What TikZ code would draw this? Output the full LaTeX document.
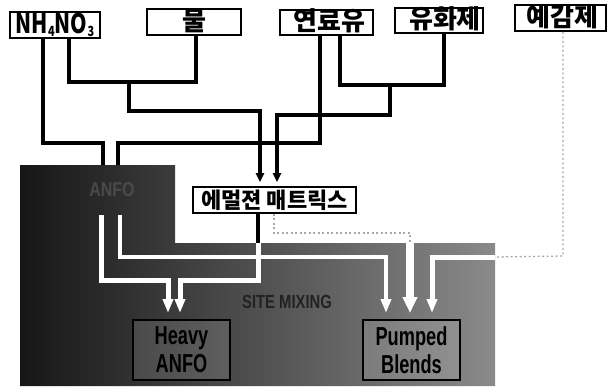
\documentclass[tikz,border=0pt]{standalone}
\usepackage{fontspec}
\usepackage{graphicx}
\setmainfont{Liberation Sans}
\newfontfamily\kr{Noto Sans CJK KR}
\usetikzlibrary{arrows.meta}
\definecolor{bgleft}{HTML}{161616}
\definecolor{bgmid}{HTML}{444444}
\definecolor{bgright}{HTML}{8A8A8A}
\definecolor{dotgray}{HTML}{A8A8A8}
\definecolor{faint}{HTML}{4A4A4A}
\definecolor{sitetext}{HTML}{222222}
\begin{document}
\begin{tikzpicture}[x=1pt,y=-1pt,
  topbox/.style={draw=black,line width=1.6pt,fill=white,inner sep=0pt,minimum height=26pt,
    text height=19pt,text depth=3pt,
    font=\kr\bfseries\fontsize{26}{26}\selectfont},
  lowbox/.style={draw=black,line width=2pt,fill=white,fill opacity=0.12,text opacity=1,
    inner sep=0pt,minimum width=97pt,minimum height=60pt,align=center,
    font=\bfseries\fontsize{26}{28}\selectfont},
  blk/.style={line width=3.5pt,black},
  wht/.style={line width=5pt,white},
  barrow/.style={-{Triangle[length=9pt,width=8pt]},shorten >=4pt},
  warrow/.style={-{Triangle[length=14pt,width=10pt]},shorten >=6pt},
  dotline/.style={dotgray,line width=1.3pt,dash pattern=on 2pt off 2.5pt}]
\useasboundingbox (0,0) rectangle (607,389);
\fill[white] (0,0) rectangle (607,389);
% dark textured area
\shade[left color=bgleft,middle color=bgmid,right color=bgright]
  (20,165) -- (175,165) -- (175,243) -- (495,243) -- (495,386) -- (20,386) -- cycle;
% top boxes
\node[topbox,minimum width=90pt] (nh) at (55,25)
  {\scalebox{0.78}[1]{\bfseries\fontsize{27}{27}\selectfont NH\raisebox{-3pt}{\fontsize{14}{14}\selectfont 4}NO\raisebox{-3pt}{\fontsize{14}{14}\selectfont 3}}};
\node[topbox,minimum width=94pt] (mul) at (194,22) {물};
\node[topbox,minimum width=93pt,minimum height=25pt] (fuel) at (326.5,22.5) {\hspace*{6pt}연료유};
\node[topbox,minimum width=88pt,minimum height=25pt] (emu) at (439,20.5) {\hspace*{12pt}유화제};
\node[topbox,minimum width=91pt] (sens) at (560.5,18) {\hspace*{4pt}예감제};
% emulsion matrix
\node[topbox,minimum width=163pt,font=\kr\bfseries\fontsize{22}{22}\selectfont] (mat) at (274.5,200) {에멀젼 매트릭스};
% ANFO (dark on dark)
\node[inner sep=0pt,minimum width=70pt,minimum height=50pt,text=faint,font=\bfseries\fontsize{20}{20}\selectfont] (anfo) at (112,190) {\scalebox{0.8}[1]{ANFO}};
% site mixing label
\node[inner sep=0pt,text=sitetext,font=\bfseries\fontsize{19}{19}\selectfont] (site) at (287,302) {\scalebox{0.78}[1]{SITE MIXING}};
% product boxes
\node[lowbox] (heavy) at (181.5,350) {\scalebox{0.7}[1]{Heavy}\\\scalebox{0.7}[1]{ANFO}};
\node[lowbox] (pump) at (411.5,350) {\scalebox{0.7}[1]{Pumped}\\\scalebox{0.7}[1]{Blends}};
% black connectors
\coordinate (j1) at (129,82);
\coordinate (j2) at (390,85);
\draw[blk] (nh.south -| 43,0) -- (43,143) -- (103,143) -- (anfo.north -| 103,0);
\draw[blk] (nh.south -| 69,0) -- (69,82) -- (196,82) -- (mul.south -| 196,0);
\draw[blk,barrow] (j1) -- (129,111) -- (260,111) -- (mat.north -| 260,0);
\draw[blk] (fuel.south -| 320,0) -- (320,143) -- (118,143) -- (anfo.north -| 118,0);
\draw[blk] (fuel.south -| 340,0) -- (340,85) -- (444,85) -- (emu.south -| 444,0);
\draw[blk,barrow] (j2) -- (390,115) -- (277,115) -- (mat.north -| 277,0);
\coordinate (m1) at (258,243);
\draw[blk] (mat.south -| 258,0) -- (m1);
% white connectors in the dark area
\draw[wht,warrow] (anfo.south -| 101,0) -- (101,280) -- (168,280) -- (heavy.north -| 168,0);
\draw[wht,warrow] (m1) -- (258,280) -- (180,280) -- (heavy.north -| 180,0);
\draw[wht,line width=4pt,warrow] (anfo.south -| 120,0) -- (120,257) -- (386,257) -- (pump.north -| 386,0);
% dotted connectors
\coordinate (d1) at (410,243);
\coordinate (d2) at (495,257);
\draw[dotline] (mat.south -| 274,0) -- (274,233) -- (410,233) -- (d1);
\draw[wht,line width=8pt,-{Triangle[length=16pt,width=14pt]},shorten >=6pt] (d1) -- (pump.north -| 410,0);
\draw[dotline] (sens.south -| 563,0) -- (563,256) -- (d2);
\draw[wht,warrow] (d2) -- (432,257) -- (pump.north -| 432,0);
\end{tikzpicture}
\end{document}
